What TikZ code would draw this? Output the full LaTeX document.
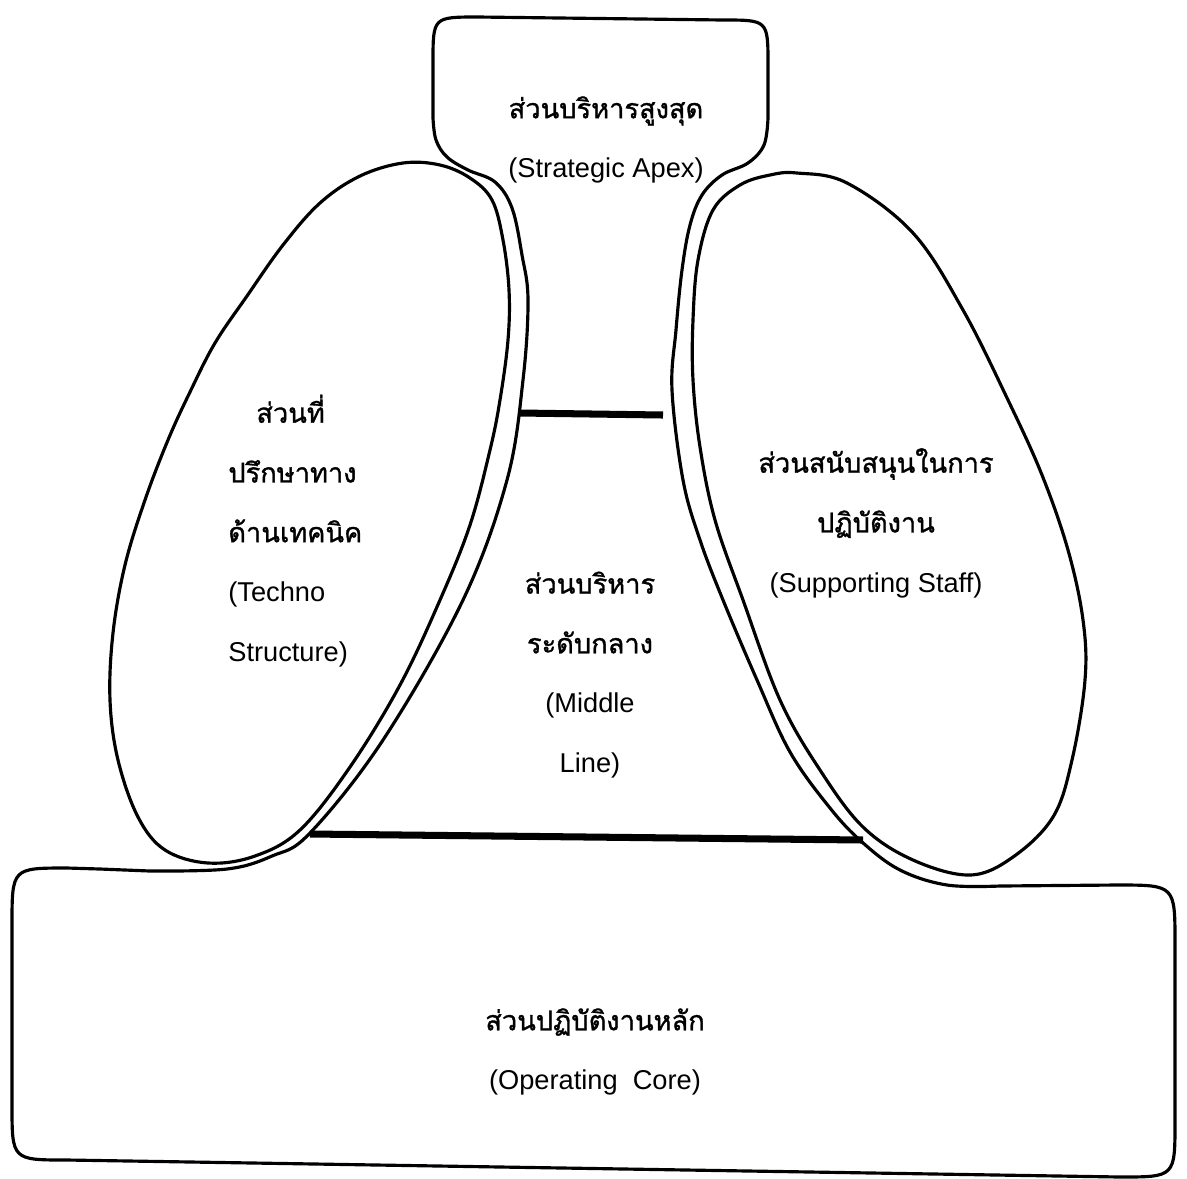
\documentclass[tikz,border=0pt]{standalone}
\usepackage{fontspec}
\setmainfont{Liberation Sans}
\newfontfamily\thaifont[Script=Thai,FakeBold=1.2]{Loma}
\newcommand{\thaitext}[1]{{\thaifont #1}}
\usetikzlibrary{positioning}

\begin{document}
\begin{tikzpicture}[
    x=0.02cm, y=-0.02cm,
    font=\fontsize{15.5}{34}\selectfont,
    outline/.style={line width=1.8pt, line join=round, line cap=round},
    midline/.style={line width=4pt},
    lbl/.style={align=center, inner sep=0pt}
  ]
    \useasboundingbox (0,0) rectangle (1187,1178);
    % apex, middle line and operating core as one outline
    \draw[outline]
      (100,869) -- plot[smooth, tension=0.6] coordinates {(150,871) (227,869) (272,856) (310,833) (383,740) (463,600) (507,480) (523,380) (528,300) (522,255) (512,208) (495,182) (468,170) (447,157) (436,140) (433,118)}
      -- (433,62) .. controls (433,17) .. (478,17)
      -- (723,20) .. controls (768,20) .. (768,65)
      -- plot[smooth, tension=0.6] coordinates {(768,118) (764,145) (748,163) (722,175) (702,195) (690,225) (682,270) (676,330) (672,390) (683,480) (700,540) (723,600) (757,680) (790,752) (830,808) (862,842) (900,870) (947,885) (1000,886)}
      -- (1117,885) .. controls (1175,885) .. (1175,943)
      -- (1175,1122) .. controls (1175,1177) .. (1120,1177)
      -- (67,1160) .. controls (12,1160) .. (12,1105)
      -- (12,925) .. controls (12,868) .. (67,868) -- cycle;
    % techno structure
    \draw[outline] plot[smooth cycle, tension=0.6] coordinates {(403,163) (440,165) (470,178) (492,200) (503,240) (509,290) (508,340) (500,400) (490,450) (470,525) (440,600) (400,685) (350,767) (300,830) (255,856) (208,863) (165,850) (138,817) (118,760) (110,700) (113,633) (125,565) (145,500) (168,440) (190,392) (215,343) (247,296) (283,245) (320,203) (360,176)};
    % supporting staff
    \draw[outline] plot[smooth cycle, tension=0.6] coordinates {(797,173) (847,183) (913,233) (963,310) (1008,400) (1042,475) (1068,550) (1083,620) (1085,680) (1072,760) (1053,817) (1013,857) (970,875) (913,860) (863,827) (820,770) (780,700) (743,600) (715,520) (700,447) (693,380) (693,320) (698,260) (713,210) (740,185) (770,175)};
    % middle line limits
    \draw[midline] (520,413) -- (663,415);
    \draw[midline] (310,834) -- (863,840);

    \node[lbl] (apex) at (606,140) {\thaitext{ส่วนบริหารสูงสุด}\\(Strategic Apex)};
    \node[lbl, align=left, anchor=west] (techno) at (228,531) {\hspace{0.56cm}\thaitext{ส่วนที่}\\\thaitext{ปรึกษาทาง}\\\thaitext{ด้านเทคนิค}\\(Techno\\Structure)};
    \node[lbl] (middle) at (590,675) {\thaitext{ส่วนบริหาร}\\\thaitext{ระดับกลาง}\\(Middle\\Line)};
    \node[lbl] (support) at (876,523) {\thaitext{ส่วนสนับสนุนในการ}\\\thaitext{ปฏิบัติงาน}\\(Supporting Staff)};
    \node[lbl] (core) at (595,1052) {\thaitext{ส่วนปฏิบัติงานหลัก}\\(Operating~~Core)};
  \end{tikzpicture}
\end{document}
